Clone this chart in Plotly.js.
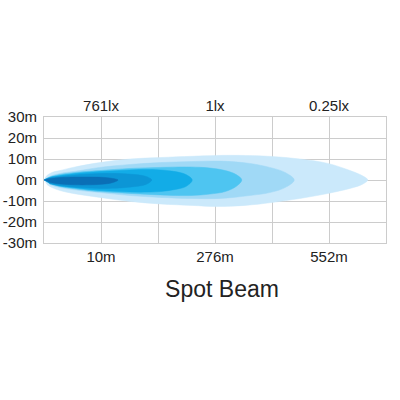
<!DOCTYPE html>
<html>
<head>
<meta charset="utf-8">
<script src="https://cdn.plot.ly/plotly-3.0.1.min.js"></script>
<style>html,body{margin:0;padding:0;background:#fff;}#chart{width:400px;height:400px;}</style>
</head>
<body>
<div id="chart"></div>
<script>
// Grid columns along the beam (0..6), beam spread in metres
var distanceTickVals = [0, 1, 2, 3, 4, 5, 6];
var distanceLabels = ['', '10m', '', '276m', '', '552m', ''];
var luxTickVals = [1, 3, 5];
var luxLabels = ['761lx', '1lx', '0.25lx'];
var spreadTickVals = [30, 20, 10, 0, -10, -20, -30];
var spreadLabels = ['30m', '20m', '10m', '0m', '-10m', '-20m', '-30m'];
var beamTitle = 'Spot Beam';

// Beam contours (outer to inner): x positions, upper edge (m), lower edge (m)
var beam6X = [0, 0.05, 0.14, 0.28, 0.51, 0.98, 1.51, 2.04, 2.6, 3.02, 3.53, 4.0, 4.49, 4.98, 5.37, 5.58, 5.68];
var beam6Up = [0, 2.1, 3.6, 4.5, 6.0, 8.3, 10.0, 10.7, 11.3, 11.7, 11.7, 11.2, 10.0, 7.9, 4.5, 2.1, 0];
var beam6Lo = [0, -2.1, -3.6, -5.0, -6.4, -8.3, -10.2, -11.4, -12.1, -12.6, -12.1, -10.7, -8.8, -6.4, -4.0, -2.1, 0];

var beam5X = [0, 0.1, 0.28, 0.63, 0.98, 1.51, 2.04, 2.6, 3.09, 3.61, 3.96, 4.23, 4.39];
var beam5Up = [0, 1.7, 3.1, 4.5, 6.0, 7.4, 8.3, 8.8, 9.0, 7.9, 6.0, 3.6, 0];
var beam5Lo = [0, -2.1, -3.6, -5.0, -6.0, -7.4, -8.3, -8.8, -8.8, -7.4, -6.0, -3.6, 0];

var beam4X = [0, 0.1, 0.28, 0.63, 0.98, 1.51, 2.04, 2.56, 2.91, 3.18, 3.37, 3.47];
var beam4Up = [0, 1.4, 2.6, 3.8, 4.5, 5.5, 6.0, 6.2, 5.7, 4.5, 2.6, 0];
var beam4Lo = [0, -1.7, -3.1, -4.5, -5.5, -6.4, -7.1, -7.4, -6.7, -5.5, -3.1, 0];

var beam3X = [0, 0.1, 0.28, 0.63, 0.98, 1.33, 1.68, 2.04, 2.3, 2.49, 2.6];
var beam3Up = [0, 1.2, 2.1, 3.3, 4.0, 4.5, 5.0, 4.8, 4.0, 2.6, 0];
var beam3Lo = [0, -1.7, -2.9, -4.0, -5.0, -5.5, -5.8, -5.5, -4.5, -3.1, 0];

var beam2X = [0, 0.1, 0.28, 0.63, 0.98, 1.33, 1.6, 1.79, 1.89];
var beam2Up = [0, 1.0, 1.7, 2.6, 3.1, 3.1, 2.6, 1.7, 0];
var beam2Lo = [0, -1.7, -2.6, -3.6, -4.0, -3.8, -3.1, -2.1, 0];

var beam1X = [0, 0.1, 0.28, 0.54, 0.81, 1.07, 1.21, 1.3];
var beam1Up = [0, 0.7, 1.2, 1.4, 1.4, 1.2, 0.7, 0];
var beam1Lo = [0, -1.2, -1.9, -2.3, -2.3, -1.9, -1.2, 0];

var beamColors = ['#cbe9fb', '#a0d9f6', '#4ec5f1', '#12ace7', '#0c96d6', '#0a6fb6'];

function outline(xs, up, lo) {
  var x = xs.slice(), y = up.slice();
  for (var i = xs.length - 2; i >= 1; i--) { x.push(xs[i]); y.push(lo[i]); }
  return {x: x, y: y};
}

var beams = [
  outline(beam6X, beam6Up, beam6Lo),
  outline(beam5X, beam5Up, beam5Lo),
  outline(beam4X, beam4Up, beam4Lo),
  outline(beam3X, beam3Up, beam3Lo),
  outline(beam2X, beam2Up, beam2Lo),
  outline(beam1X, beam1Up, beam1Lo)
];

var traces = beams.map(function (b, i) {
  return {
    type: 'scatter', mode: 'lines', x: b.x, y: b.y,
    fill: 'toself', fillcolor: beamColors[i],
    line: {color: beamColors[i], width: 0.5, shape: 'spline', smoothing: 1},
    hoverinfo: 'skip', showlegend: false
  };
});
// carrier for the top (lux) axis
traces.push({type: 'scatter', mode: 'markers', x: [null], y: [null], xaxis: 'x2', yaxis: 'y', showlegend: false, hoverinfo: 'skip'});

var font = {family: 'Liberation Sans, Arial, sans-serif', size: 15, color: '#222'};

var layout = {
  width: 400, height: 400,
  margin: {l: 44, r: 14, t: 117, b: 157, pad: 0},
  paper_bgcolor: '#fff', plot_bgcolor: '#fff',
  font: font,
  title: {text: beamTitle, font: {family: font.family, size: 23, color: '#222'},
          xref: 'container', yref: 'container', x: 0.555, y: 0.278, xanchor: 'center', yanchor: 'middle'},
  xaxis: {range: [0, 6], tickmode: 'array', tickvals: distanceTickVals, ticktext: distanceLabels,
          showgrid: true, gridcolor: '#cccccc', gridwidth: 1, zeroline: false,
          showline: true, linecolor: '#cccccc', mirror: true, ticks: '', tickfont: font,
          ticklabelstandoff: 0, fixedrange: true},
  xaxis2: {range: [0, 6], overlaying: 'x', side: 'top', anchor: 'y', tickmode: 'array',
           tickvals: luxTickVals, ticktext: luxLabels, showgrid: false, zeroline: false,
           showline: false, ticks: '', tickfont: font, ticklabelstandoff: 2, fixedrange: true},
  yaxis: {range: [-30, 30], tickmode: 'array', tickvals: spreadTickVals, ticktext: spreadLabels,
          showgrid: true, gridcolor: '#cccccc', gridwidth: 1, zeroline: false,
          showline: true, linecolor: '#cccccc', mirror: true, ticks: '', tickfont: font,
          ticklabelstandoff: 3, fixedrange: true}
};

Plotly.newPlot('chart', traces, layout, {staticPlot: true, displayModeBar: false});
</script>
</body>
</html>
